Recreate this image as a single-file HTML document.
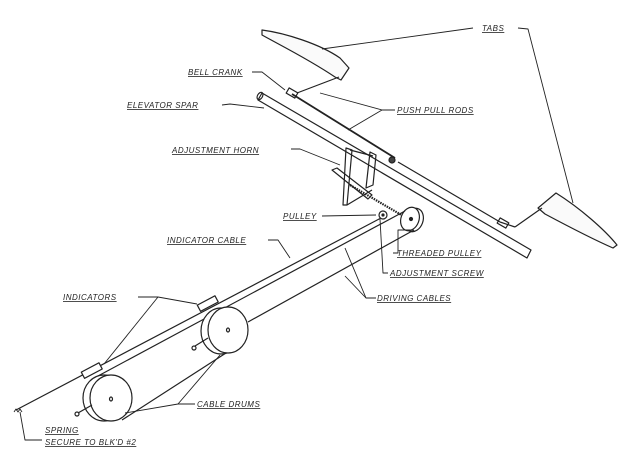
<!DOCTYPE html>
<html><head><meta charset="utf-8"><style>
html,body{margin:0;padding:0;background:#fff;}
svg{display:block}
text{font-family:"Liberation Sans",sans-serif;font-style:italic;font-size:8px;fill:#222;text-decoration:underline;letter-spacing:0.5px}
</style></head><body>
<svg width="640" height="463" viewBox="0 0 640 463" xmlns="http://www.w3.org/2000/svg">
<rect width="640" height="463" fill="#fff"/>
<g fill="none" stroke="#222" stroke-width="1.2" stroke-linejoin="round">
<path d="M262,30 C285,33 320,44 340,58 L349,68 L341,80 L335,77 C310,60 280,45 262,35 Z" fill="#fafafa"/>
<path d="M538,208 L556,193 C580,208 605,230 617,245 L613,248 C590,238 560,222 545,214 Z" fill="#fafafa"/>
<path d="M262,93 L531,250 L527,258 L258,100 Z" fill="#fff"/>
<ellipse cx="260" cy="96" rx="2.5" ry="4" transform="rotate(30 260 96)"/>
<line x1="292" y1="94" x2="395" y2="158" stroke-width="1.8"/>
<line x1="297" y1="93" x2="339" y2="77"/>
<rect x="287" y="90" width="10" height="6" transform="rotate(30 292 93)"/>
<line x1="398" y1="162" x2="500" y2="222"/>
<line x1="500" y1="222" x2="515" y2="227"/>
<line x1="515" y1="227" x2="542" y2="208"/>
<rect x="498" y="220" width="10" height="6" transform="rotate(30 503 223)"/>
<path d="M346,148 L352,150 L347,205 L343,205 Z"/>
<line x1="350" y1="150" x2="373" y2="156"/>
<path d="M370,152 L376,155 L373,185 L366,188 Z"/>
<line x1="347" y1="205" x2="372" y2="190"/>
<path d="M332,170 L337,168 L372,195 L368,199 Z"/>
<circle cx="392" cy="160" r="3" fill="#444"/>
<line x1="350" y1="185" x2="410" y2="220" stroke-width="2.2" stroke-dasharray="1.5,1"/>
<circle cx="383" cy="215" r="4"/>
<circle cx="383" cy="215" r="1" fill="#222"/>
<ellipse cx="414" cy="220" rx="9" ry="12" transform="rotate(20 414 220)" fill="#fff"/>
<ellipse cx="410" cy="219" rx="9" ry="12" transform="rotate(20 410 219)" fill="#fff"/>
<circle cx="411" cy="219" r="1.5" fill="#222"/>
<line x1="381" y1="218" x2="16" y2="410"/>
<line x1="405" y1="211" x2="98" y2="376"/>
<line x1="414" y1="230" x2="248" y2="322"/>
<line x1="226" y1="353" x2="122" y2="420"/>
<g fill="#fff">
<ellipse cx="221" cy="331" rx="20" ry="23"/>
<ellipse cx="228" cy="330" rx="20" ry="23"/>
<ellipse cx="104" cy="398" rx="21" ry="23"/>
<ellipse cx="111" cy="398" rx="21" ry="23"/>
</g>
<ellipse cx="228" cy="330" rx="1.5" ry="2"/>
<ellipse cx="111" cy="399" rx="1.5" ry="2"/>
<line x1="208" y1="338" x2="195" y2="346"/><circle cx="194" cy="348" r="2"/>
<line x1="92" y1="405" x2="78" y2="413"/><circle cx="77" cy="414" r="2"/>
<rect x="198" y="300" width="20" height="7" transform="rotate(-28 208 304)" fill="#fff"/>
<rect x="82" y="367" width="20" height="7" transform="rotate(-28 92 371)" fill="#fff"/>
<path d="M14,412 l2,-3 l2,3 l2,-3 l2,3" stroke-width="0.9"/>
<g stroke-width="0.9">
<polyline points="473,28 322,49"/>
<polyline points="518,28 528,29 573,203"/>
<polyline points="252,72 262,72 285,90"/>
<polyline points="222,105 230,104 264,108"/>
<polyline points="395,110 382,110 320,93"/>
<polyline points="382,110 348,130"/>
<polyline points="291,149 300,149 340,165"/>
<polyline points="322,216 376,215"/>
<polyline points="268,240 278,240 290,258"/>
<polyline points="393,253 398,253 398,230 412,230"/>
<polyline points="388,273 383,273 380,219"/>
<polyline points="376,298 366,298 345,248"/>
<polyline points="366,298 345,276"/>
<polyline points="138,297 158,297 197,304"/>
<polyline points="158,297 104,364"/>
<polyline points="195,404 178,404 220,355"/>
<polyline points="178,404 125,413"/>
<polyline points="20,412 25,440 42,440"/>
</g>
</g>
<text x="482" y="31">TABS</text>
<text x="188" y="75">BELL CRANK</text>
<text x="127" y="108">ELEVATOR SPAR</text>
<text x="397" y="113">PUSH PULL RODS</text>
<text x="172" y="153">ADJUSTMENT HORN</text>
<text x="283" y="219">PULLEY</text>
<text x="167" y="243">INDICATOR CABLE</text>
<text x="397" y="256">THREADED PULLEY</text>
<text x="390" y="276">ADJUSTMENT SCREW</text>
<text x="377" y="301">DRIVING CABLES</text>
<text x="63" y="300">INDICATORS</text>
<text x="197" y="407">CABLE DRUMS</text>
<text x="45" y="433">SPRING</text>
<text x="45" y="445">SECURE TO BLK'D #2</text>
</svg>
</body></html>
